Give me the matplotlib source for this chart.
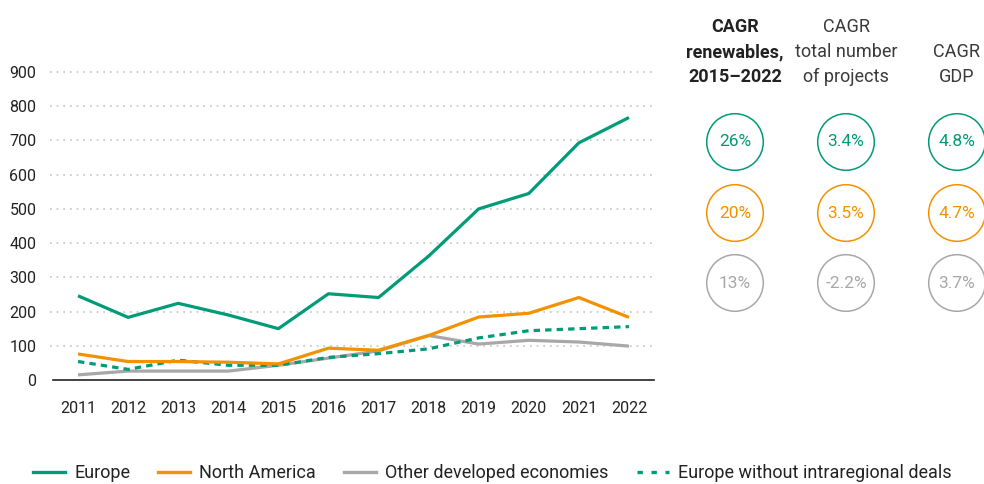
import matplotlib
matplotlib.use("Agg")
import matplotlib.pyplot as plt
from matplotlib.patches import Circle
from matplotlib.lines import Line2D

plt.rcParams['font.family'] = ['Roboto', 'DejaVu Sans']

years = [2011, 2012, 2013, 2014, 2015, 2016, 2017, 2018, 2019, 2020, 2021, 2022]
europe = [246, 183, 224, 190, 150, 252, 241, 362, 500, 545, 693, 767]
north_america = [76, 54, 54, 52, 47, 93, 87, 130, 184, 195, 241, 183]
other_developed = [15, 26, 26, 26, 43, 64, 85, 130, 105, 116, 111, 99]
europe_wo_intra = [54, 31, 58, 43, 43, 66, 77, 91, 123, 144, 150, 156]

headers = ["CAGR\nrenewables,\n2015\u20132022", "CAGR\ntotal number\nof projects", "CAGR\nGDP"]
cagr_europe = ["26%", "3.4%", "4.8%"]
cagr_na = ["20%", "3.5%", "4.7%"]
cagr_other = ["13%", "-2.2%", "3.7%"]

GREEN = "#009B77"
ORANGE = "#F39200"
GRAY = "#A8A8A8"
TXT = "#222222"

W, H = 984, 484
fig = plt.figure(figsize=(W / 100, H / 100), dpi=100)

def fx(px):
    return px / W

def fy(py):
    return 1 - py / H

ax = fig.add_axes([fx(53), fy(380), fx(654) - fx(53), fy(72) - fy(380)])
ax.set_xlim(2010.5, 2022.5)
ax.set_ylim(0, 900)
for v in range(100, 1000, 100):
    ax.axhline(v, xmin=-0.005, color="#C4C4C4", lw=1.2, ls=(0, (1, 3)), zorder=0, clip_on=False)
for s in ["top", "right", "left"]:
    ax.spines[s].set_visible(False)
ax.spines["bottom"].set_color(TXT)
ax.spines["bottom"].set_linewidth(1.2)
ax.set_xticks(years)
ax.set_xticklabels([str(y) for y in years])
ax.set_yticks(range(0, 1000, 100))
ax.tick_params(axis="both", length=0, labelsize=11.5, colors=TXT)
ax.tick_params(axis="x", pad=15)
ax.tick_params(axis="y", pad=12)

lw = 2.3
ax.plot(years, other_developed, color=GRAY, lw=lw, clip_on=False, solid_capstyle="butt")
ax.plot(years, europe_wo_intra, color=GREEN, lw=lw, ls=(0, (2, 1.6)), clip_on=False)
ax.plot(years, north_america, color=ORANGE, lw=lw, clip_on=False, solid_capstyle="butt")
ax.plot(years, europe, color=GREEN, lw=lw, clip_on=False, solid_capstyle="butt")

# Right panel overlay
ov = fig.add_axes([0, 0, 1, 1])
ov.set_xlim(0, W)
ov.set_ylim(H, 0)
ov.axis("off")

col_x = [735, 846, 957]
header_weights = ["bold", "normal", "normal"]
header_lines = [(27, 52, 77), (27, 52, 77), (52, 77)]
for x, h, w, ys in zip(col_x, headers, header_weights, header_lines):
    for line, yy in zip(h.split("\n"), ys):
        ov.text(x, yy, line, ha="center", va="center", fontsize=13,
                color=TXT if w == "bold" else "#3a3a3a", fontweight=w)

rows = [(cagr_europe, GREEN, 142), (cagr_na, ORANGE, 213), (cagr_other, GRAY, 283)]
for vals, col, y in rows:
    for x, v in zip(col_x, vals):
        ov.add_patch(Circle((x, y), 28.3, fill=False, edgecolor=col, lw=1.1))
        ov.text(x, y, v, ha="center", va="center", fontsize=12.5, color=col)

handles = [
    Line2D([], [], color=GREEN, lw=2.4),
    Line2D([], [], color=ORANGE, lw=2.4),
    Line2D([], [], color=GRAY, lw=2.4),
    Line2D([], [], color=GREEN, lw=2.4, ls=(0, (1.6, 2.6))),
]
labels = ["Europe", "North America", "Other developed economies", "Europe without intraregional deals"]
fig.legend(handles, labels, loc="center left", bbox_to_anchor=(fx(33), fy(473)), ncol=4,
           frameon=False, fontsize=13, handlelength=1.78, handletextpad=0.5,
           columnspacing=1.55, labelcolor=TXT, borderaxespad=0, borderpad=0)

fig.savefig("out.png", dpi=100)
